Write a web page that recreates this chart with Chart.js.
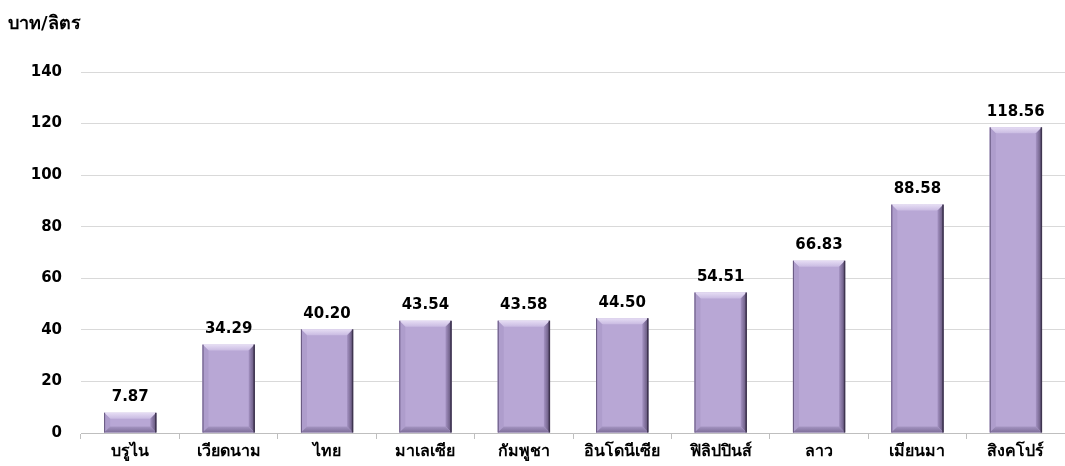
<!DOCTYPE html>
<html>
<head>
<meta charset="utf-8">
<script src="https://cdn.jsdelivr.net/npm/chart.js@4/dist/chart.umd.min.js"></script>
<style>
  html, body { margin: 0; padding: 0; background: #fff; }
  #wrap { width: 1065px; height: 466px; }
</style>
</head>
<body>
<div id="wrap"><canvas id="myChart"></canvas></div>
<script>
// Data
const countries = ["บรูไน", "เวียดนาม", "ไทย", "มาเลเซีย", "กัมพูชา", "อินโดนีเซีย", "ฟิลิปปินส์", "ลาว", "เมียนมา", "สิงคโปร์"];
const prices = [7.87, 34.29, 40.20, 43.54, 43.58, 44.50, 54.51, 66.83, 88.58, 118.56];
const yTicks = [0, 20, 40, 60, 80, 100, 120, 140];
const unitLabel = "บาท/ลิตร";

const FONT = "Tahoma, 'DejaVu Sans', 'Noto Sans', sans-serif";

// bevelled bars + value labels
const bevelPlugin = {
    id: 'bevel',
    afterDatasetsDraw(chart) {
        const ctx = chart.ctx;
        const meta = chart.getDatasetMeta(0);
        meta.data.forEach((bar, i) => {
            const w = bar.width;
            const l = bar.x - w / 2, r = bar.x + w / 2;
            const t = bar.y, b = bar.base;
            const h = b - t;
            const e = Math.min(6, h / 2);
            ctx.save();
            // face
            ctx.fillStyle = '#b8a7d5';
            ctx.fillRect(l, t, w, h);
            // top bevel
            let g = ctx.createLinearGradient(0, t, 0, t + e);
            g.addColorStop(0, '#e6ddf4');
            g.addColorStop(1, '#c9bbe2');
            ctx.fillStyle = g;
            ctx.beginPath();
            ctx.moveTo(l, t); ctx.lineTo(r, t); ctx.lineTo(r - e, t + e); ctx.lineTo(l + e, t + e);
            ctx.closePath(); ctx.fill();
            // left bevel
            ctx.fillStyle = '#ae9dcc';
            ctx.beginPath();
            ctx.moveTo(l, t); ctx.lineTo(l + e, t + e); ctx.lineTo(l + e, b - e); ctx.lineTo(l, b);
            ctx.closePath(); ctx.fill();
            // right bevel
            g = ctx.createLinearGradient(r - e, 0, r, 0);
            g.addColorStop(0, '#a492c2');
            g.addColorStop(1, '#5e5075');
            ctx.fillStyle = g;
            ctx.beginPath();
            ctx.moveTo(r, t); ctx.lineTo(r - e, t + e); ctx.lineTo(r - e, b - e); ctx.lineTo(r, b);
            ctx.closePath(); ctx.fill();
            // bottom bevel
            g = ctx.createLinearGradient(0, b - e, 0, b);
            g.addColorStop(0, '#a595c2');
            g.addColorStop(1, '#7d6d99');
            ctx.fillStyle = g;
            ctx.beginPath();
            ctx.moveTo(l, b); ctx.lineTo(l + e, b - e); ctx.lineTo(r - e, b - e); ctx.lineTo(r, b);
            ctx.closePath(); ctx.fill();
            // thin dark outline on sides
            ctx.strokeStyle = '#66577f';
            ctx.lineWidth = 1;
            ctx.beginPath();
            ctx.moveTo(l + 0.5, t); ctx.lineTo(l + 0.5, b);
            ctx.stroke();
            ctx.strokeStyle = '#3f3550';
            ctx.lineWidth = 1.5;
            ctx.beginPath();
            ctx.moveTo(r - 0.5, t); ctx.lineTo(r - 0.5, b);
            ctx.stroke();

            // value label
            ctx.fillStyle = '#000';
            ctx.font = 'bold 15px ' + FONT;
            ctx.textAlign = 'center';
            ctx.textBaseline = 'bottom';
            ctx.fillText(prices[i].toFixed(2), bar.x, t - 8);
            ctx.restore();
        });
        // unit label top-left
        ctx.save();
        ctx.fillStyle = '#000';
        ctx.font = 'bold 18px ' + FONT;
        ctx.textAlign = 'left';
        ctx.textBaseline = 'middle';
        ctx.fillText(unitLabel, 8, 24);
        ctx.restore();
    }
};

new Chart(document.getElementById("myChart"), {
    type: 'bar',
    data: {
        labels: countries,
        datasets: [{
            data: prices,
            backgroundColor: 'rgba(0,0,0,0)',
            borderWidth: 0,
            categoryPercentage: 1,
            barPercentage: 0.53
        }]
    },
    options: {
        responsive: true,
        maintainAspectRatio: false,
        animation: false,
        layout: { padding: { top: 72, right: 0, bottom: 0, left: 0 } },
        plugins: {
            legend: { display: false },
            tooltip: { enabled: false }
        },
        scales: {
            x: {
                grid: { offset: true, drawOnChartArea: false, tickLength: 6, color: '#bfbfbf' },
                border: { color: '#bfbfbf' },
                ticks: { color: '#000', font: { family: FONT, size: 16, weight: 'bold' }, padding: 3 },
                afterFit(scale) { scale.height = 33; }
            },
            y: {
                min: 0,
                max: 140,
                afterBuildTicks(scale) { scale.ticks = yTicks.map(v => ({ value: v })); },
                grid: { color: '#d9d9d9', drawTicks: false },
                border: { display: false },
                ticks: { color: '#000', font: { family: FONT, size: 15, weight: 'bold' }, padding: 19 },
                afterFit(scale) { scale.width = 81; }
            }
        }
    },
    plugins: [bevelPlugin]
});
</script>
</body>
</html>
